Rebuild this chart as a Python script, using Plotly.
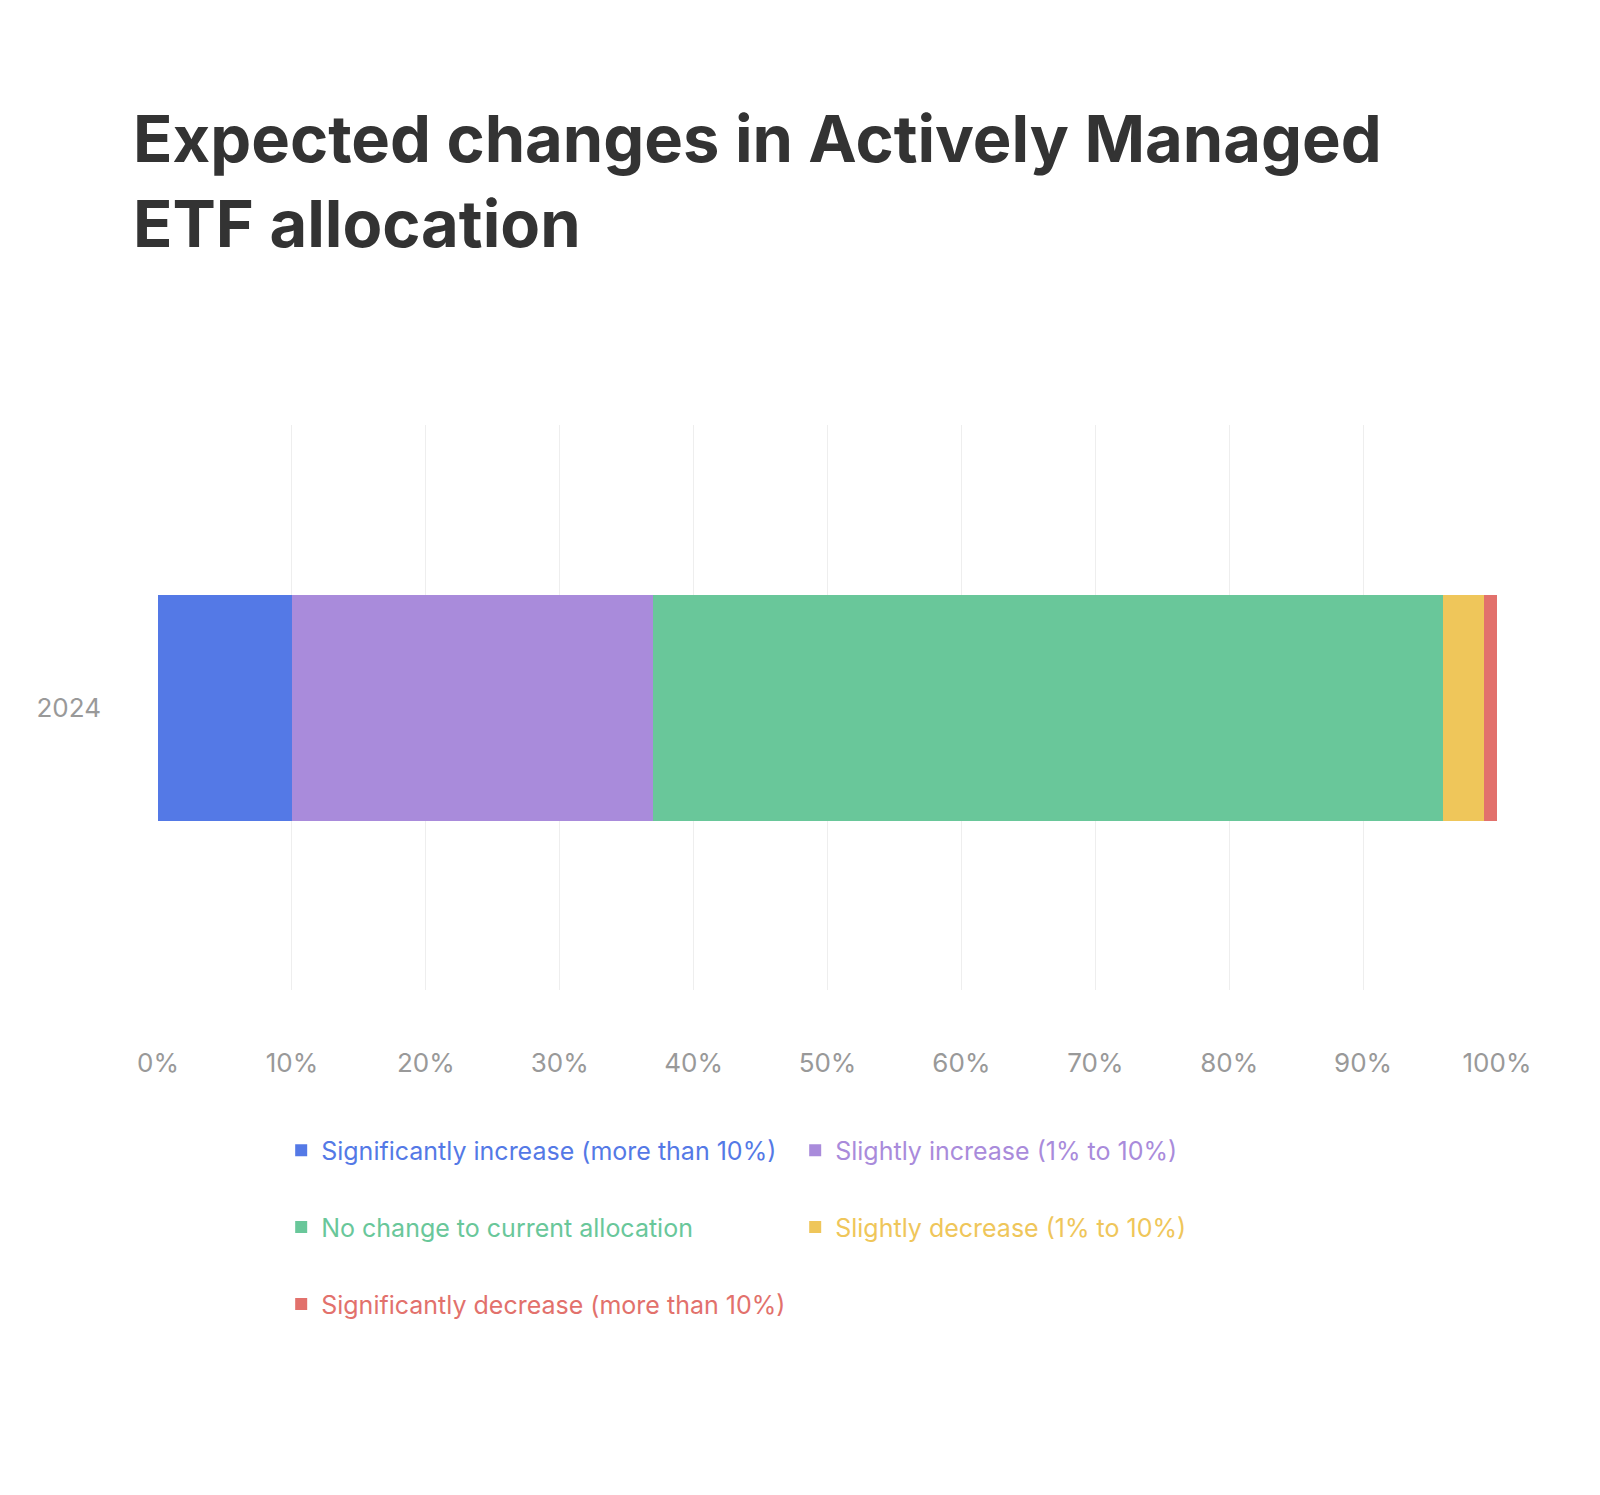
import plotly.graph_objects as go

# ── data ──────────────────────────────────────────────
category = ["2024"]
series_names = [
    "Significantly increase (more than 10%)",
    "Slightly increase (1% to 10%)",
    "No change to current allocation",
    "Slightly decrease (1% to 10%)",
    "Significantly decrease (more than 10%)",
]
series_values = [10, 27, 59, 3, 1]
series_colors = ["#5479e6", "#a98bdb", "#69c79a", "#efc65a", "#e2716c"]
# legend row each series sits in (reference shows 2 + 2 + 1)
legend_rows = ["legend", "legend", "legend2", "legend2", "legend3"]

fig = go.Figure()
for name, val, col, lg in zip(series_names, series_values, series_colors, legend_rows):
    fig.add_trace(go.Bar(
        x=[val], y=category, orientation="h",
        name=f"<span style='color:{col}'>{name}</span>",
        marker=dict(color=col, line=dict(width=0)),
        legend=lg,
        hovertemplate=f"{name}: %{{x}}%<extra></extra>",
    ))

leg = dict(orientation="h", x=0.092, xanchor="left", yanchor="middle",
           entrywidth=469, entrywidthmode="pixels",
           font=dict(size=25), traceorder="normal",
           bgcolor="rgba(0,0,0,0)")

fig.update_layout(
    width=1600, height=1495,
    barmode="stack", bargap=0.6,
    paper_bgcolor="white", plot_bgcolor="white",
    font=dict(family="Inter, Roboto, sans-serif", size=26, color="#999999"),
    title=dict(
        text="<b>Expected changes in Actively Managed<br>ETF allocation</b>",
        x=125 / 1600, xref="container", xanchor="left",
        y=1 - 154 / 1495, yref="container", yanchor="top",
        font=dict(size=65, color="#333333"),
    ),
    margin=dict(l=150, r=111, t=417, b=513),
    showlegend=True,
    legend={**leg, "y": -0.284},
    legend2={**leg, "y": -0.420},
    legend3={**leg, "y": -0.556},
)
fig.update_xaxes(
    range=[0, 100], dtick=10, ticksuffix="%",
    showgrid=True, gridcolor="#eeeeee", gridwidth=1,
    zeroline=False, showline=False, ticks="",
    ticklabelstandoff=55,
    tickfont=dict(size=26, color="#999999"),
)
fig.update_yaxes(showgrid=False, ticks="", ticklabelstandoff=56,
                 tickfont=dict(size=26, color="#999999"))

fig.write_html("out.html")
